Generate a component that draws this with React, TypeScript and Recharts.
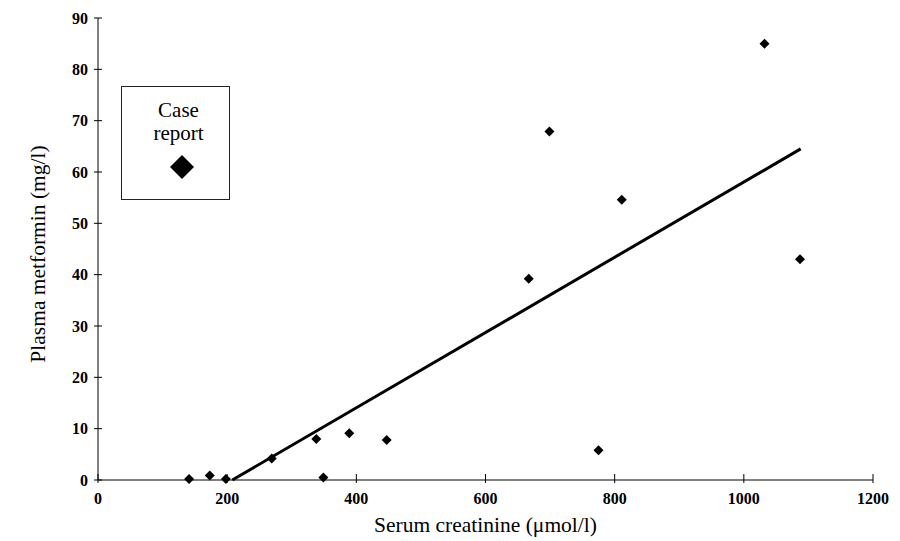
import { ScatterChart, Scatter, XAxis, YAxis, Label } from "recharts";

// serum creatinine (µmol/l) vs plasma metformin (mg/l)
const creatinine = [141, 173, 198, 269, 338, 349, 389, 447, 667, 699, 775, 811, 1032, 1087];
const metformin = [0.2, 0.9, 0.2, 4.2, 8.0, 0.5, 9.1, 7.8, 39.2, 67.9, 5.8, 54.6, 85.0, 43.0];

// regression line end points
const trendX = [208, 1088];
const trendY = [0, 64.5];

const xTicks = [0, 200, 400, 600, 800, 1000, 1200];
const yTicks = [0, 10, 20, 30, 40, 50, 60, 70, 80, 90];

const points = creatinine.map((x, i) => ({ x, y: metformin[i] }));
const trend = trendX.map((x, i) => ({ x, y: trendY[i] }));

const FONT = "'Liberation Serif', 'Times New Roman', serif";

function XTick(props: any) {
  const { x, y, payload } = props;
  const ay = y - 13;
  return (
    <g>
      <line x1={x} x2={x} y1={ay - 6} y2={ay + 3} stroke="#000" />
      <text x={x} y={y} dy="0.71em" textAnchor="middle" fontWeight="bold" fontSize={16} fontFamily={FONT} fill="#000">
        {payload.value}
      </text>
    </g>
  );
}

function YTick(props: any) {
  const { x, y, payload } = props;
  const ax = x + 10;
  return (
    <g>
      <line x1={ax - 4} x2={ax + 4} y1={y} y2={y} stroke="#000" />
      <text x={x} y={y} dy="0.355em" textAnchor="end" fontWeight="bold" fontSize={16} fontFamily={FONT} fill="#000">
        {payload.value}
      </text>
    </g>
  );
}

function Diamond(props: any) {
  const { cx, cy } = props;
  const r = 5;
  return <polygon points={`${cx},${cy - r} ${cx + r},${cy} ${cx},${cy + r} ${cx - r},${cy}`} fill="#000" />;
}

export default function App() {
  return (
    <div style={{ position: "absolute", left: 0, top: 0, width: 900, height: 541, background: "#fff", fontFamily: FONT }}>
      <ScatterChart width={900} height={541} margin={{ top: 18, right: 27, bottom: 0, left: 0 }}>
        <XAxis
          type="number"
          dataKey="x"
          domain={[0, 1200]}
          ticks={xTicks}
          interval={0}
          height={61}
          tickSize={5}
          tickMargin={8}
          tickLine={false}
          axisLine={{ stroke: "#000" }}
          tick={<XTick />}
        >
          <Label
            content={({ viewBox }: any) => (
              <text x={viewBox.x + viewBox.width / 2} y={viewBox.y + 52} textAnchor="middle" fontSize={21.5} fontFamily={FONT} fill="#000">
                Serum creatinine (μmol/l)
              </text>
            )}
          />
        </XAxis>
        <YAxis
          type="number"
          dataKey="y"
          domain={[0, 90]}
          ticks={yTicks}
          interval={0}
          width={98}
          tickSize={5}
          tickMargin={5}
          tickLine={false}
          axisLine={{ stroke: "#000" }}
          tick={<YTick />}
        >
          <Label
            content={({ viewBox }: any) => {
              const cx = viewBox.x + 38;
              const cy = viewBox.y + viewBox.height / 2 + 5;
              return (
                <text x={cx} y={cy} transform={`rotate(-90 ${cx} ${cy})`} textAnchor="middle" dominantBaseline="central" fontSize={21.5} fontFamily={FONT} fill="#000">
                  Plasma metformin (mg/l)
                </text>
              );
            }}
          />
        </YAxis>
        <Scatter data={trend} line={{ stroke: "#000", strokeWidth: 3 }} shape={() => <g />} isAnimationActive={false} />
        <Scatter data={points} shape={<Diamond />} isAnimationActive={false} />
      </ScatterChart>
      <div
        style={{
          position: "absolute",
          left: 121,
          top: 86,
          width: 107,
          height: 112,
          border: "1px solid #222",
          textAlign: "center",
          fontSize: 21,
          lineHeight: "23px",
          color: "#000",
        }}
      >
        <div style={{ marginTop: 12, marginLeft: 6 }}>Case</div>
        <div style={{ marginLeft: 6 }}>report</div>
        <svg width={26} height={26} style={{ position: "absolute", left: 47, top: 67 }}>
          <polygon points="13,1 25,13 13,25 1,13" fill="#000" />
        </svg>
      </div>
    </div>
  );
}
